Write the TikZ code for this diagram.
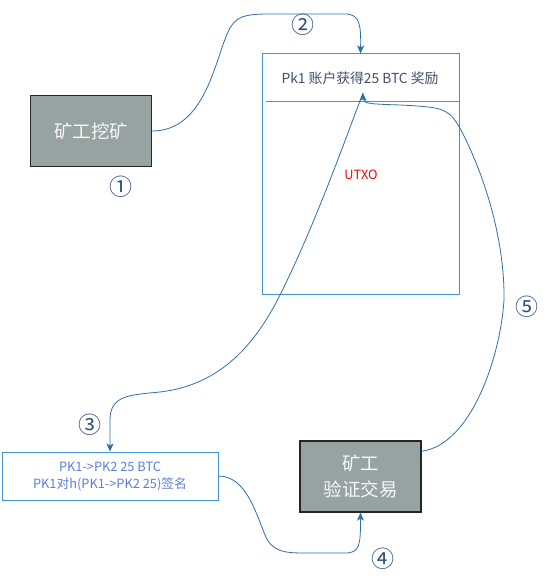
\documentclass[tikz,border=0pt]{standalone}
\usepackage{fontspec}
\setmainfont{Noto Sans CJK SC}
\usetikzlibrary{arrows.meta, positioning, calc}
\definecolor{flowblue}{HTML}{2F6FA5}
\definecolor{boxblue}{HTML}{3F95D8}
\definecolor{txtblue}{HTML}{5A7EDC}
\definecolor{minergray}{HTML}{97A3A1}
\definecolor{titlegray}{HTML}{414F68}
\definecolor{numblue}{HTML}{2C4F7A}

\begin{document}
\begin{tikzpicture}[x=1pt, y=-1pt, every node/.style={font=\fontsize{12.8}{17}\selectfont},
  miner/.style={draw=black!85, line width=1.3pt, fill=minergray, text=white!94!gray, minimum width=121pt, minimum height=71pt, inner sep=0pt, align=center, font=\fontsize{18.5}{26}\selectfont},
  record/.style={draw=boxblue, line width=1pt, inner sep=0pt},
  flow/.style={draw=flowblue, line width=0.8pt},
  tip/.style={-{Stealth[length=8pt, width=7pt, inset=2pt]}},
  stepnum/.style={text=numblue, font=\fontsize{23}{23}\selectfont, inner sep=0pt}]
  \useasboundingbox (0,0) rectangle (556,583);
  % boxes
  \node[miner] (mine) at (91,131) {矿工挖矿};
  \node[record, minimum width=197pt, minimum height=240pt] (utxo) at (360.5,174) {};
  \node[text=titlegray, font=\fontsize{13.8}{17}\selectfont] (reward) at (360,78) {Pk1 账户获得25 BTC 奖励};
  \node[text=red] (utxolabel) at (361,175) {UTXO};
  \coordinate (sep) at (266,102);
  \draw[boxblue, line width=1pt] (sep) -- (sep -| utxo.east);
  \node[record, minimum width=216pt, minimum height=48pt, text=txtblue, align=center] (tx) at (110,476) {PK1->PK2 25 BTC\\PK1对h(PK1->PK2 25)签名};
  \node[miner] (verify) at (360.5,476.5) {矿工\\验证交易};
  \coordinate (credit) at (363,93);
  % flows
  \draw[flow, tip] (mine.east) .. controls (205,131) and (215,60) .. (228,32)
    .. controls (235,16) and (245,14) .. (270,14) -- (345,14)
    .. controls (360,14) and (361,25) .. (utxo.north);
  \draw[flow, tip] (credit) .. controls (345,140) and (315,225) .. (280,295)
    .. controls (255,345) and (220,385) .. (160,392)
    .. controls (130,395) and (110,395) .. (110,420) -- (tx.north);
  \draw[flow, tip] (tx.east) .. controls (245,476) and (255,510) .. (265,535)
    .. controls (272,552) and (285,553) .. (305,553) -- (345,553)
    .. controls (360,553) and (360.5,545) .. (verify.south);
  \draw[flow, tip] ($(verify.north east)!0.15!(verify.south east)$)
    .. controls (470,445) and (500,360) .. (504,300)
    .. controls (505,220) and (470,145) .. (458,125)
    .. controls (448,108) and (440,107) .. (400,105)
    .. controls (372,104) and (363,104) .. (credit);
  % step numbers
  \foreach \lbl/\px/\py [count=\k] in {①/121/187, ②/303/25, ③/90/425, ④/383/559, ⑤/527/307}
    \node[stepnum] (num\k) at (\px,\py) {\lbl};
\end{tikzpicture}
\end{document}
